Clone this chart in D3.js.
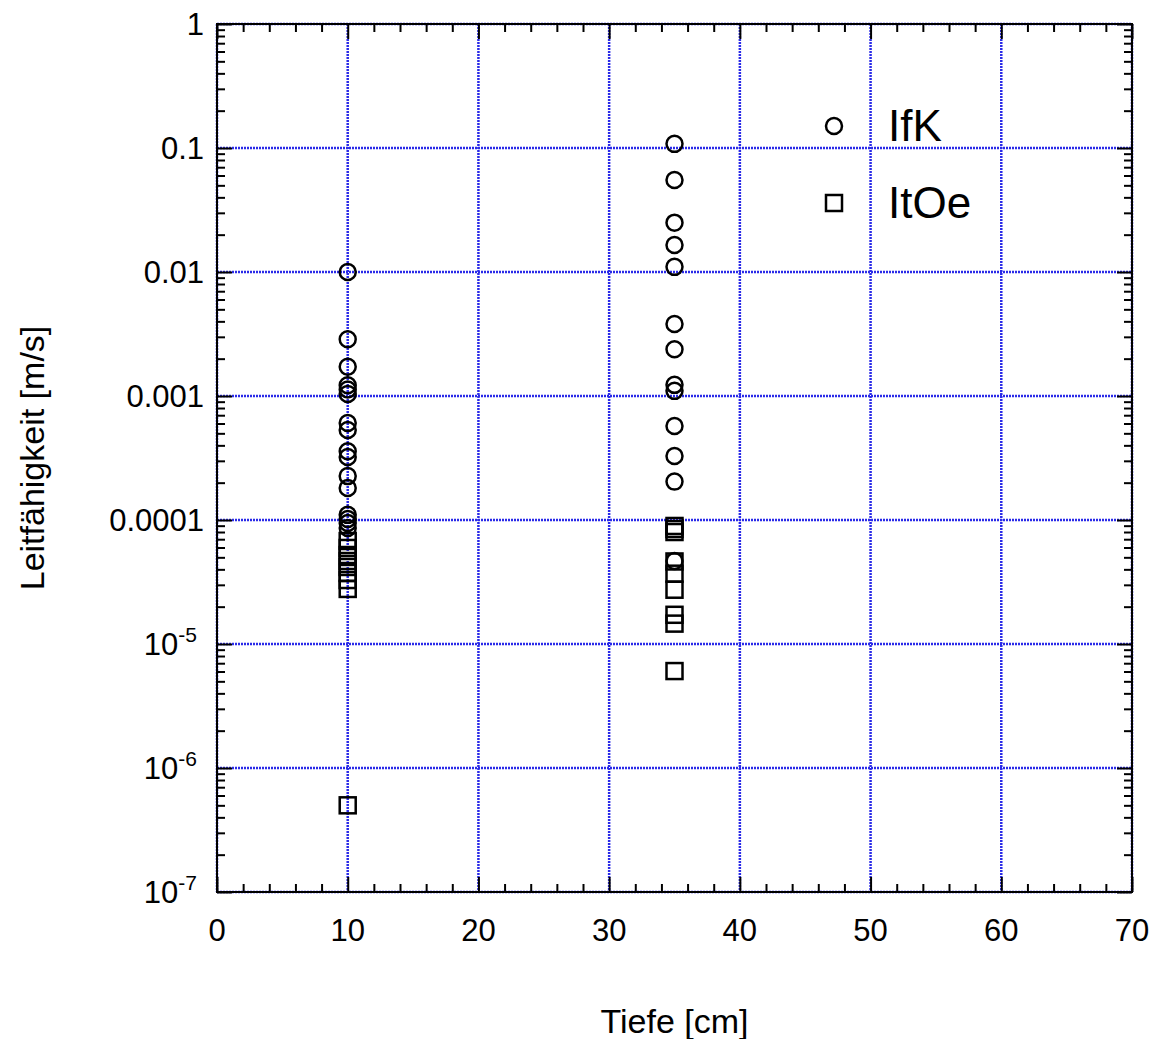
<!DOCTYPE html>
<html>
<head>
<meta charset="utf-8">
<script src="https://cdn.jsdelivr.net/npm/d3@7"></script>
<style>
  body { margin: 0; background: #fff; }
  text { font-family: "Liberation Sans", Arial, sans-serif; fill: #000; }
</style>
</head>
<body>
<div id="chart"></div>
<script>
var svgWidth = 1153;
var svgHeight = 1039;

var margin = { top: 24, right: 21, bottom: 147, left: 217 };
var chartWidth = svgWidth - margin.left - margin.right;
var chartHeight = svgHeight - margin.top - margin.bottom;

// measured values, Tiefe 10 cm and 35 cm
var depths = [10, 35];
var ifk10 = [0.0100, 0.00287, 0.00172, 0.00122, 0.00113, 0.00104, 0.000605, 0.000532,
  0.000358, 0.000322, 0.000226, 0.000181, 0.000110, 0.000102, 0.0000946, 0.0000861];
var ifk35 = [0.108, 0.0552, 0.0250, 0.0165, 0.0110, 0.00381, 0.00238, 0.00123, 0.00110,
  0.000573, 0.000328, 0.000204, 0.0000467];
var itoe10 = [6.77e-5, 5.95e-5, 5.22e-5, 4.67e-5, 4.18e-5, 3.74e-5, 3.28e-5, 2.78e-5, 5.0e-7];
var itoe35 = [8.95e-5, 8.46e-5, 8.0e-5, 4.63e-5, 3.69e-5, 2.74e-5, 1.72e-5, 1.46e-5, 6.05e-6];

var xTicks = [0, 10, 20, 30, 40, 50, 60, 70];
var yTicks = [1e-7, 1e-6, 1e-5, 1e-4, 1e-3, 1e-2, 1e-1, 1];
var yLabelBase = ["10", "10", "10", "0.0001", "0.001", "0.01", "0.1", "1"];
var yLabelExp = ["-7", "-6", "-5", "", "", "", "", ""];
var legendNames = ["IfK", "ItOe"];

var svg = d3.select("#chart")
  .append("svg")
  .attr("width", svgWidth)
  .attr("height", svgHeight);

var chartGroup = svg.append("g")
  .attr("transform", `translate(${margin.left}, ${margin.top})`);

var xScale = d3.scaleLinear().domain([0, 70]).range([0, chartWidth]);
var yScale = d3.scaleLog().domain([1e-7, 1]).range([chartHeight, 0]);

var xMinor = d3.range(0, 71, 2).filter(d => d % 10 !== 0);
var yMinor = [];
for (var e = -7; e < 0; e++) {
  for (var m = 2; m <= 9; m++) yMinor.push(m * Math.pow(10, e));
}

// grid
var gridColor = "#2a2ae8";
chartGroup.selectAll(".vgrid")
  .data(xTicks)
  .enter()
  .append("line")
  .attr("x1", d => xScale(d)).attr("x2", d => xScale(d))
  .attr("y1", 0).attr("y2", chartHeight)
  .attr("stroke", gridColor)
  .attr("stroke-width", 2.5)
  .attr("stroke-dasharray", "2,1");

chartGroup.selectAll(".hgrid")
  .data(yTicks)
  .enter()
  .append("line")
  .attr("x1", 0).attr("x2", chartWidth)
  .attr("y1", d => yScale(d)).attr("y2", d => yScale(d))
  .attr("stroke", gridColor)
  .attr("stroke-width", 2.5)
  .attr("stroke-dasharray", "2,1");

// ticks on all four sides, pointing inward
function tickAxis(axis, values, size) {
  return axis.tickValues(values).tickSize(size).tickSizeOuter(0).tickFormat("");
}
var axes = [
  [tickAxis(d3.axisBottom(xScale), xTicks, -15), `translate(0, ${chartHeight})`],
  [tickAxis(d3.axisBottom(xScale), xMinor, -8), `translate(0, ${chartHeight})`],
  [tickAxis(d3.axisTop(xScale), xTicks, -15), "translate(0, 0)"],
  [tickAxis(d3.axisTop(xScale), xMinor, -8), "translate(0, 0)"],
  [tickAxis(d3.axisLeft(yScale), yTicks, -15), "translate(0, 0)"],
  [tickAxis(d3.axisLeft(yScale), yMinor, -8), "translate(0, 0)"],
  [tickAxis(d3.axisRight(yScale), yTicks, -15), `translate(${chartWidth}, 0)`],
  [tickAxis(d3.axisRight(yScale), yMinor, -8), `translate(${chartWidth}, 0)`]
];
axes.forEach(function (a) {
  var g = chartGroup.append("g").attr("transform", a[1]).call(a[0]);
  g.select(".domain").remove();
  g.selectAll("line").attr("stroke", "#000").attr("stroke-width", 2);
});

chartGroup.append("rect")
  .attr("x", 0).attr("y", 0)
  .attr("width", chartWidth).attr("height", chartHeight)
  .attr("fill", "none")
  .attr("stroke", "#000")
  .attr("stroke-width", 2);

// tick labels
chartGroup.selectAll(".xlabel")
  .data(xTicks)
  .enter()
  .append("text")
  .attr("x", d => xScale(d))
  .attr("y", chartHeight + 49)
  .attr("text-anchor", "middle")
  .attr("font-size", 31)
  .text(d => d);

yTicks.forEach(function (t, i) {
  var label = chartGroup.append("text")
    .attr("x", yLabelExp[i] ? -20 : -13)
    .attr("y", yScale(t) + 11)
    .attr("text-anchor", "end")
    .attr("font-size", 31);
  label.append("tspan").text(yLabelBase[i]);
  if (yLabelExp[i]) {
    label.append("tspan")
      .attr("dy", -13)
      .attr("font-size", 21)
      .text(yLabelExp[i]);
  }
});

// axis titles
svg.append("text")
  .attr("x", margin.left + chartWidth / 2)
  .attr("y", 1033)
  .attr("text-anchor", "middle")
  .attr("font-size", 34)
  .text("Tiefe [cm]");

svg.append("text")
  .attr("transform", `translate(44, ${margin.top + chartHeight / 2}) rotate(-90)`)
  .attr("text-anchor", "middle")
  .attr("font-size", 34)
  .text("Leitfähigkeit [m/s]");

// data
var circlePts = ifk10.map(v => [depths[0], v]).concat(ifk35.map(v => [depths[1], v]));
var squarePts = itoe10.map(v => [depths[0], v]).concat(itoe35.map(v => [depths[1], v]));

chartGroup.selectAll(".ifk")
  .data(circlePts)
  .enter()
  .append("circle")
  .attr("cx", d => xScale(d[0]))
  .attr("cy", d => yScale(d[1]))
  .attr("r", 8)
  .attr("fill", "none")
  .attr("stroke", "#000")
  .attr("stroke-width", 2.5);

chartGroup.selectAll(".itoe")
  .data(squarePts)
  .enter()
  .append("rect")
  .attr("x", d => xScale(d[0]) - 8)
  .attr("y", d => yScale(d[1]) - 8)
  .attr("width", 16)
  .attr("height", 16)
  .attr("fill", "none")
  .attr("stroke", "#000")
  .attr("stroke-width", 2.5);

// legend
var legend = svg.append("g").attr("transform", "translate(834, 126)");
legend.append("circle")
  .attr("cx", 0).attr("cy", 0).attr("r", 8)
  .attr("fill", "none").attr("stroke", "#000").attr("stroke-width", 2.5);
legend.append("rect")
  .attr("x", -8).attr("y", 77 - 8).attr("width", 16).attr("height", 16)
  .attr("fill", "none").attr("stroke", "#000").attr("stroke-width", 2.5);
legend.selectAll(".lt")
  .data(legendNames)
  .enter()
  .append("text")
  .attr("x", 54)
  .attr("y", (d, i) => i * 77 + 15)
  .attr("font-size", 44)
  .text(d => d);
</script>
</body>
</html>
